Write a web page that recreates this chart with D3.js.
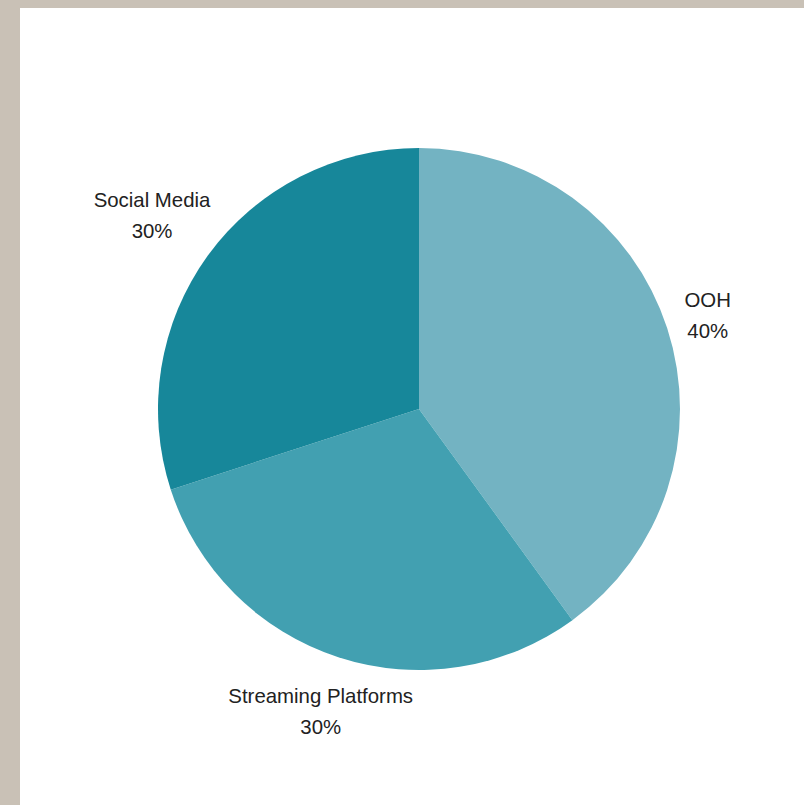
<!DOCTYPE html>
<html>
<head>
<meta charset="utf-8">
<script src="https://cdn.jsdelivr.net/npm/d3@7"></script>
<style>
  html, body { margin: 0; padding: 0; background: #c9c1b6; }
  #panel { position: absolute; left: 20px; top: 8px; width: 784px; height: 797px; background: #fff; }
  svg text { font-family: "Liberation Sans", Arial, sans-serif; font-size: 20.4px; fill: #222; }
</style>
</head>
<body>
<div id="panel"></div>
<script>
// slices, clockwise from 12 o'clock
var categories = ['OOH', 'Streaming Platforms', 'Social Media'];
var shares = [40, 30, 30];
var sliceColors = ['#73b3c2', '#42a0b1', '#17879a'];

var width = 784, height = 797;
var cx = 399, cy = 401, radius = 261;
var gap = 19, lineGap = 31;

var data = categories.map(function(c, i) {
    return { name: c, value: shares[i], color: sliceColors[i] };
});

var svg = d3.select('#panel').append('svg')
    .attr('width', width)
    .attr('height', height);

var g = svg.append('g').attr('transform', 'translate(' + cx + ',' + cy + ')');

var pie = d3.pie().sort(null).value(function(d) { return d.value; });
var arc = d3.arc().innerRadius(0).outerRadius(radius);
var arcs = pie(data);

g.selectAll('path')
    .data(arcs)
    .enter()
    .append('path')
    .attr('d', arc)
    .attr('fill', function(d) { return d.data.color; });

// labels sit on the mid-angle ray, pushed out by the box size in that direction
var labels = g.selectAll('g.label')
    .data(arcs)
    .enter()
    .append('g')
    .attr('class', 'label');

labels.append('text')
    .attr('text-anchor', 'middle')
    .attr('y', -lineGap / 2)
    .attr('dy', '0.35em')
    .text(function(d) { return d.data.name; });

labels.append('text')
    .attr('text-anchor', 'middle')
    .attr('y', lineGap / 2)
    .attr('dy', '0.35em')
    .text(function(d) { return d.data.value + '%'; });

labels.attr('transform', function(d) {
    var box = this.getBBox();
    var a = (d.startAngle + d.endAngle) / 2;
    var dx = Math.sin(a), dy = -Math.cos(a);
    var ext = Math.hypot(dx * box.width / 2, dy * box.height / 2);
    var dist = radius + gap + ext;
    return 'translate(' + (dx * dist) + ',' + (dy * dist) + ')';
});
</script>
</body>
</html>
